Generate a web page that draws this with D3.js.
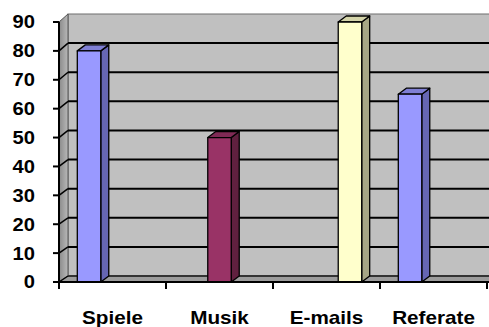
<!DOCTYPE html>
<html>
<head>
<meta charset="utf-8">
<script src="https://cdn.jsdelivr.net/npm/d3@7"></script>
<style>
  html, body { margin: 0; padding: 0; background: #fff; }
  svg { display: block; }
  text { font-family: "Liberation Sans", Arial, sans-serif; font-weight: bold; fill: #000; }
</style>
</head>
<body>
<svg id="chart" width="489" height="327"></svg>
<script>
// Categories and per-series values (each category uses one series slot)
const categories = ["Spiele", "Musik", "E-mails", "Referate"];
const series1 = [80, null, null, 65];
const series2 = [null, 50, null, null];
const series3 = [null, null, 90, null];
const yTicks = [0, 10, 20, 30, 40, 50, 60, 70, 80, 90];

const seriesList = [series1, series2, series3];
const frontColors = ["#9999FF", "#993366", "#FFFFCC"];
const topColors   = ["#7F7FD4", "#7F2A55", "#D4D4AA"];
const sideColors  = ["#6666B3", "#60203F", "#A6A685"];

const svg = d3.select("#chart");

// Front plane geometry
const x = d3.scaleBand().domain(categories).range([59, 487]);
const slot = d3.scaleBand().domain([0, 1, 2]).range([0, x.bandwidth()]).paddingOuter(0.78);
const yFront = d3.scaleLinear().domain([0, 90]).range([282, 22]);
const yBack = d3.scaleLinear().domain([0, 90]).range([276, 14]);
const wallX = 68;          // back wall left edge
const barDx = 8, barDy = 6; // bar depth offsets

// Left wall gradient
const defs = svg.append("defs");
const lg = defs.append("linearGradient").attr("id", "leftWall")
  .attr("x1", "0").attr("x2", "1").attr("y1", "0").attr("y2", "0");
lg.append("stop").attr("offset", "0").attr("stop-color", "#8A8A8A");
lg.append("stop").attr("offset", "1").attr("stop-color", "#B8B8B8");

// Back wall
svg.append("rect")
  .attr("x", wallX).attr("y", yBack(90))
  .attr("width", 489 - wallX + 10).attr("height", yBack(0) - yBack(90))
  .attr("fill", "#C0C0C0").attr("stroke", "#6E6E6E").attr("stroke-width", 1);

// Left wall
svg.append("polygon")
  .attr("points", [[59, yFront(90)], [wallX, yBack(90)], [wallX, yBack(0)], [59, yFront(0)]].join(" "))
  .attr("fill", "url(#leftWall)").attr("stroke", "#555").attr("stroke-width", 1);

// Floor
svg.append("polygon")
  .attr("points", [[59, yFront(0)], [wallX, yBack(0)], [500, yBack(0)], [500, yFront(0)]].join(" "))
  .attr("fill", "#9C9C9C");

// Gridlines on back wall and left wall
const grid = yTicks.filter(t => t < 90);
svg.append("g").selectAll("line").data(grid).join("line")
  .attr("x1", wallX).attr("x2", 489)
  .attr("y1", d => yBack(d)).attr("y2", d => yBack(d))
  .attr("stroke", d => d === 0 ? "#333" : "#000").attr("stroke-width", 2);
svg.append("g").selectAll("line").data(grid).join("line")
  .attr("x1", 59).attr("x2", wallX)
  .attr("y1", d => yFront(d)).attr("y2", d => yBack(d))
  .attr("stroke", "#000").attr("stroke-width", 1.5);

// Bars
const bars = [];
seriesList.forEach((s, si) => {
  s.forEach((v, ci) => {
    if (v != null) bars.push({ cat: categories[ci], v, si });
  });
});
const bg = svg.append("g").attr("stroke", "#000").attr("stroke-width", 1.3).attr("stroke-linejoin", "round");
bars.forEach(b => {
  const x0 = x(b.cat) + slot(b.si);
  const w = slot.bandwidth();
  const yt = yFront(b.v), yb = yFront(0);
  bg.append("polygon")
    .attr("points", [[x0 + w, yt], [x0 + w + barDx, yt - barDy], [x0 + w + barDx, yb - barDy], [x0 + w, yb]].join(" "))
    .attr("fill", sideColors[b.si]);
  bg.append("polygon")
    .attr("points", [[x0, yt], [x0 + barDx, yt - barDy], [x0 + w + barDx, yt - barDy], [x0 + w, yt]].join(" "))
    .attr("fill", topColors[b.si]);
  bg.append("rect")
    .attr("x", x0).attr("y", yt).attr("width", w).attr("height", yb - yt)
    .attr("fill", frontColors[b.si]);
});

// Y axis
svg.append("line").attr("x1", 59).attr("x2", 59).attr("y1", yFront(90)).attr("y2", yFront(0))
  .attr("stroke", "#000").attr("stroke-width", 2);
svg.append("g").selectAll("line").data(yTicks).join("line")
  .attr("x1", 53).attr("x2", 59).attr("y1", d => yFront(d)).attr("y2", d => yFront(d))
  .attr("stroke", "#000").attr("stroke-width", 2);
svg.append("g").selectAll("text").data(yTicks).join("text")
  .attr("transform", d => `translate(35,${yFront(d)}) scale(1.12,1)`)
  .attr("text-anchor", "end").attr("dy", "0.36em")
  .attr("font-size", 18)
  .text(d => d);

// X axis
svg.append("line").attr("x1", 59).attr("x2", 489).attr("y1", yFront(0)).attr("y2", yFront(0))
  .attr("stroke", "#000").attr("stroke-width", 2);
const xTickPos = categories.map(c => x(c)).concat([x.range()[1]]);
svg.append("g").selectAll("line").data(xTickPos).join("line")
  .attr("x1", d => d).attr("x2", d => d).attr("y1", yFront(0)).attr("y2", yFront(0) + 7)
  .attr("stroke", "#000").attr("stroke-width", 2);
svg.append("g").selectAll("text").data(categories).join("text")
  .attr("transform", d => `translate(${x(d) + x.bandwidth() / 2},324) scale(1.15,1)`)
  .attr("text-anchor", "middle")
  .attr("font-size", 18)
  .text(d => d);
</script>
</body>
</html>
